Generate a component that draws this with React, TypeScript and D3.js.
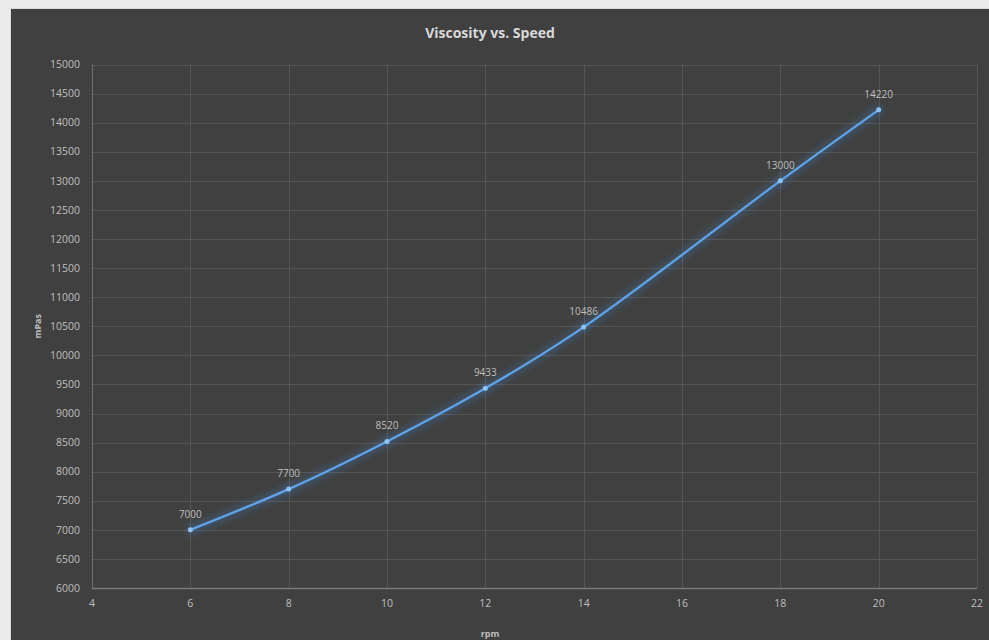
import React, { useEffect, useRef } from 'react';
import * as d3 from 'd3';

const rpm = [6, 8, 10, 12, 14, 18, 20];
const viscosity = [7000, 7700, 8520, 9433, 10486, 13000, 14220];
const xTicks = [4, 6, 8, 10, 12, 14, 16, 18, 20, 22];
const yTicks = d3.range(6000, 15001, 500);

function ViscosityChart() {
  const ref = useRef<SVGSVGElement | null>(null);

  useEffect(() => {
    const svg = d3.select(ref.current);
    svg.selectAll('*').remove();

    const width = 989, height = 640;
    const margin = { top: 64.5, right: 12, bottom: 52, left: 92 };
    const font = "'Open Sans', 'Liberation Sans', sans-serif";

    svg.append('rect').attr('width', width).attr('height', height).attr('fill', '#ebebeb');
    svg.append('rect')
      .attr('x', 10.5).attr('y', 8.5)
      .attr('width', 990).attr('height', 640)
      .attr('fill', '#404040')
      .attr('stroke', '#d9d9d9');

    const defs = svg.append('defs');
    const glow = defs.append('filter').attr('id', 'glow')
      .attr('x', '-20%').attr('y', '-20%').attr('width', '140%').attr('height', '140%');
    glow.append('feGaussianBlur').attr('in', 'SourceAlpha').attr('stdDeviation', 4.5).attr('result', 'blur');
    glow.append('feFlood').attr('flood-color', '#3d9bff').attr('flood-opacity', 0.8);
    glow.append('feComposite').attr('in2', 'blur').attr('operator', 'in').attr('result', 'glowc');
    const merge = glow.append('feMerge');
    merge.append('feMergeNode').attr('in', 'glowc');
    merge.append('feMergeNode').attr('in', 'SourceGraphic');

    const x = d3.scaleLinear().domain([4, 22]).range([margin.left, width - margin.right]);
    const y = d3.scaleLinear().domain([6000, 15000]).range([height - margin.bottom, margin.top]);

    // grid
    svg.append('g').selectAll('line.h').data(yTicks).enter().append('line')
      .attr('x1', x(4)).attr('x2', x(22))
      .attr('y1', d => Math.round(y(d)) + 0.5).attr('y2', d => Math.round(y(d)) + 0.5)
      .attr('stroke', '#555555').attr('stroke-width', 1);
    svg.append('g').selectAll('line.v').data(xTicks).enter().append('line')
      .attr('y1', y(6000)).attr('y2', y(15000))
      .attr('x1', d => Math.round(x(d)) + 0.5).attr('x2', d => Math.round(x(d)) + 0.5)
      .attr('stroke', '#555555').attr('stroke-width', 1);

    // axes lines
    svg.append('line').attr('x1', x(4)).attr('x2', x(22))
      .attr('y1', Math.round(y(6000)) + 0.5).attr('y2', Math.round(y(6000)) + 0.5)
      .attr('stroke', '#7a7a7a').attr('stroke-width', 1.5);
    svg.append('line').attr('x1', Math.round(x(4)) + 0.5).attr('x2', Math.round(x(4)) + 0.5)
      .attr('y1', y(6000)).attr('y2', y(15000))
      .attr('stroke', '#6e6e6e').attr('stroke-width', 1);

    // tick labels
    svg.append('g').selectAll('text').data(yTicks).enter().append('text')
      .attr('x', x(4) - 12).attr('y', d => y(d)).attr('dy', '0.35em')
      .attr('text-anchor', 'end').attr('font-family', font).attr('font-size', 10.5)
      .attr('fill', '#bfbfbf').text(d => d);
    svg.append('g').selectAll('text').data(xTicks).enter().append('text')
      .attr('x', d => x(d)).attr('y', y(6000) + 19)
      .attr('text-anchor', 'middle').attr('font-family', font).attr('font-size', 10.5)
      .attr('fill', '#bfbfbf').text(d => d);

    // titles
    svg.append('text').attr('x', 490).attr('y', 38)
      .attr('text-anchor', 'middle').attr('font-family', font).attr('font-size', 14)
      .attr('font-weight', 'bold').attr('fill', '#d9d9d9').text('Viscosity vs. Speed');
    svg.append('text').attr('x', 490).attr('y', 637)
      .attr('text-anchor', 'middle').attr('font-family', font).attr('font-size', 9)
      .attr('font-weight', 'bold').attr('fill', '#bfbfbf').text('rpm');
    svg.append('text')
      .attr('transform', `translate(41,${(y(6000) + y(15000)) / 2}) rotate(-90)`)
      .attr('text-anchor', 'middle').attr('font-family', font).attr('font-size', 9)
      .attr('font-weight', 'bold').attr('fill', '#bfbfbf').text('mPas');

    const pts = rpm.map((r, i) => [r, viscosity[i]] as [number, number]);
    const line = d3.line<[number, number]>()
      .x(d => x(d[0])).y(d => y(d[1]))
      .curve(d3.curveCatmullRom.alpha(0.5));

    const series = svg.append('g').attr('filter', 'url(#glow)');
    series.append('path').datum(pts)
      .attr('d', line).attr('fill', 'none')
      .attr('stroke', '#5fa3e8').attr('stroke-width', 2.25);
    series.selectAll('circle').data(pts).enter().append('circle')
      .attr('cx', d => x(d[0])).attr('cy', d => y(d[1])).attr('r', 2.5)
      .attr('fill', '#8cc3f5');

    svg.append('g').selectAll('text.lbl').data(pts).enter().append('text')
      .attr('x', d => x(d[0])).attr('y', d => y(d[1]) - 12)
      .attr('text-anchor', 'middle').attr('font-family', font).attr('font-size', 10)
      .attr('fill', '#bfbfbf').text(d => d[1]);
  }, []);

  return <svg ref={ref} width={989} height={640} style={{ position: 'absolute', left: 0, top: 0 }} />;
}

export default function App() {
  return <ViscosityChart />;
}
